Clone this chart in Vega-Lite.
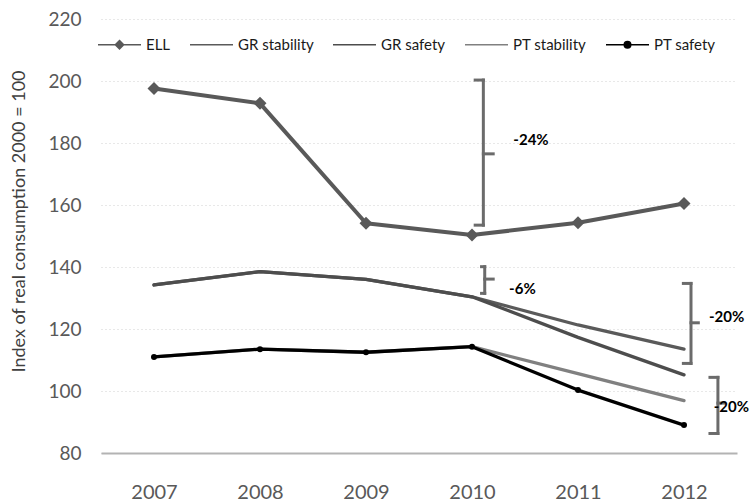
{
  "$schema": "https://vega.github.io/schema/vega-lite/v6.json",
  "autosize": "none",
  "width": 636,
  "height": 434,
  "padding": {"left": 101, "top": 19, "right": 13, "bottom": 49},
  "background": "white",
  "config": {"view": {"stroke": null}, "font": "Lato"},
  "datasets": {
    "series": [
      {"series": "ELL", "year": 2007, "value": 197.6},
      {"series": "ELL", "year": 2008, "value": 192.8},
      {"series": "ELL", "year": 2009, "value": 154.1},
      {"series": "ELL", "year": 2010, "value": 150.3},
      {"series": "ELL", "year": 2011, "value": 154.3},
      {"series": "ELL", "year": 2012, "value": 160.5},
      {"series": "GR stability", "year": 2007, "value": 134.2},
      {"series": "GR stability", "year": 2008, "value": 138.5},
      {"series": "GR stability", "year": 2009, "value": 136.0},
      {"series": "GR stability", "year": 2010, "value": 130.4},
      {"series": "GR stability", "year": 2011, "value": 121.3},
      {"series": "GR stability", "year": 2012, "value": 113.5},
      {"series": "GR safety", "year": 2007, "value": 134.2},
      {"series": "GR safety", "year": 2008, "value": 138.5},
      {"series": "GR safety", "year": 2009, "value": 136.0},
      {"series": "GR safety", "year": 2010, "value": 130.4},
      {"series": "GR safety", "year": 2011, "value": 117.3},
      {"series": "GR safety", "year": 2012, "value": 105.2},
      {"series": "PT stability", "year": 2007, "value": 111.0},
      {"series": "PT stability", "year": 2008, "value": 113.5},
      {"series": "PT stability", "year": 2009, "value": 112.5},
      {"series": "PT stability", "year": 2010, "value": 114.3},
      {"series": "PT stability", "year": 2011, "value": 105.6},
      {"series": "PT stability", "year": 2012, "value": 96.9},
      {"series": "PT safety", "year": 2007, "value": 111.0},
      {"series": "PT safety", "year": 2008, "value": 113.5},
      {"series": "PT safety", "year": 2009, "value": 112.5},
      {"series": "PT safety", "year": 2010, "value": 114.3},
      {"series": "PT safety", "year": 2011, "value": 100.3},
      {"series": "PT safety", "year": 2012, "value": 89.0}
    ],
    "brackets": [
      {"x": 2010.107, "x2": 2010.107, "y": 153.5, "y2": 200.3},
      {"x": 2010.03, "x2": 2010.107, "y": 200.3, "y2": 200.3},
      {"x": 2010.03, "x2": 2010.107, "y": 153.5, "y2": 153.5},
      {"x": 2010.107, "x2": 2010.2, "y": 176.5, "y2": 176.5},
      {"x": 2010.12, "x2": 2010.12, "y": 131.5, "y2": 140.1},
      {"x": 2010.09, "x2": 2010.12, "y": 140.1, "y2": 140.1},
      {"x": 2010.09, "x2": 2010.12, "y": 131.5, "y2": 131.5},
      {"x": 2010.12, "x2": 2010.2, "y": 136.1, "y2": 136.1},
      {"x": 2012.066, "x2": 2012.066, "y": 108.9, "y2": 134.7},
      {"x": 2011.994, "x2": 2012.066, "y": 134.7, "y2": 134.7},
      {"x": 2011.994, "x2": 2012.066, "y": 108.9, "y2": 108.9},
      {"x": 2012.066, "x2": 2012.135, "y": 122.0, "y2": 122.0},
      {"x": 2012.32, "x2": 2012.32, "y": 86.3, "y2": 104.4},
      {"x": 2012.245, "x2": 2012.32, "y": 104.4, "y2": 104.4},
      {"x": 2012.245, "x2": 2012.32, "y": 86.3, "y2": 86.3},
      {"x": 2012.32, "x2": 2012.38, "y": 96.1, "y2": 96.1}
    ],
    "notes": [
      {"x": 2010.39, "y": 181.0, "label": "-24%"},
      {"x": 2010.35, "y": 132.9, "label": "-6%"},
      {"x": 2012.236, "y": 124.0, "label": "-20%"},
      {"x": 2012.28, "y": 94.9, "label": "-20%"}
    ]
  },
  "layer": [
    {
      "data": {"name": "series"},
      "transform": [{"filter": "datum.series !== 'ELL'"}],
      "mark": {"type": "line", "strokeWidth": 3.3, "strokeCap": "round", "strokeJoin": "round"},
      "encoding": {
        "x": {
          "field": "year",
          "type": "quantitative",
          "scale": {"domain": [2006.5, 2012.5], "nice": false, "zero": false},
          "axis": {
            "values": [2007, 2008, 2009, 2010, 2011, 2012],
            "format": "d",
            "title": null,
            "grid": false,
            "ticks": false,
            "domain": true,
            "domainColor": "#b3b3b3",
            "domainWidth": 2,
            "labelFont": "Lato",
            "labelFontSize": 20,
            "labelColor": "#595959",
            "labelPadding": 29
          }
        },
        "y": {
          "field": "value",
          "type": "quantitative",
          "scale": {"domain": [80, 220], "nice": false, "zero": false},
          "axis": {
            "values": [80, 100, 120, 140, 160, 180, 200, 220],
            "title": "Index of real consumption 2000 = 100",
            "titleFont": "Lato",
            "titleFontSize": 18,
            "titleFontWeight": "normal",
            "titleColor": "#404040",
            "titleBaseline": "middle",
            "titleX": -82,
            "titleY": 202,
            "grid": true,
            "gridDash": [1, 3],
            "gridColor": "#d0d0d0",
            "gridWidth": 1,
            "domain": false,
            "ticks": false,
            "labelFont": "Lato",
            "labelFontSize": 19,
            "labelColor": "#595959",
            "labelPadding": 20
          }
        },
        "color": {
          "field": "series",
          "type": "nominal",
          "scale": {
            "domain": ["ELL", "GR stability", "GR safety", "PT stability", "PT safety"],
            "range": ["#595959", "#5a5a5a", "#4d4d4d", "#808080", "#000000"]
          },
          "legend": {
            "orient": "none",
            "legendX": -4,
            "legendY": 3,
            "direction": "horizontal",
            "title": null,
            "padding": 0,
            "symbolType": "stroke",
            "symbolSize": 1849,
            "symbolStrokeWidth": 1.6,
            "labelFont": "Lato",
            "labelFontSize": 15,
            "labelColor": "#1a1a1a",
            "labelOffset": 4,
            "columnPadding": 15,
            "encode": {
              "symbols": {
                "update": {
                  "shape": {"signal": "datum.value === 'ELL' ? 'M-1,0H1M0,-0.19L0.19,0L0,0.19L-0.19,0Z' : datum.value === 'PT safety' ? 'M-1,0H1M-0.15,0A0.15,0.15 0 1,0 0.15,0A0.15,0.15 0 1,0 -0.15,0Z' : 'M-1,0H1'"},
                  "fill": {"signal": "scale('color', datum.value)"},
                  "strokeWidth": {"value": 1.6}
                }
              }
            }
          }
        }
      }
    },
    {
      "data": {"name": "series"},
      "transform": [{"filter": "datum.series === 'ELL'"}],
      "mark": {"type": "line", "strokeWidth": 4, "strokeCap": "round", "strokeJoin": "round"},
      "encoding": {
        "x": {"field": "year", "type": "quantitative"},
        "y": {"field": "value", "type": "quantitative"},
        "color": {"field": "series", "type": "nominal"}
      }
    },
    {
      "data": {"name": "series"},
      "transform": [{"filter": "datum.series === 'ELL'"}],
      "mark": {"type": "point", "shape": "diamond", "filled": true, "size": 170, "color": "#595959", "opacity": 1},
      "encoding": {
        "x": {"field": "year", "type": "quantitative"},
        "y": {"field": "value", "type": "quantitative"}
      }
    },
    {
      "data": {"name": "series"},
      "transform": [{"filter": "datum.series === 'PT safety'"}],
      "mark": {"type": "point", "shape": "circle", "filled": true, "size": 36, "color": "#000000", "opacity": 1},
      "encoding": {
        "x": {"field": "year", "type": "quantitative"},
        "y": {"field": "value", "type": "quantitative"}
      }
    },
    {
      "data": {"name": "brackets"},
      "mark": {"type": "rule", "color": "#6b6b6b", "strokeWidth": 3, "strokeCap": "square"},
      "encoding": {
        "x": {"field": "x", "type": "quantitative"},
        "x2": {"field": "x2"},
        "y": {"field": "y", "type": "quantitative"},
        "y2": {"field": "y2"}
      }
    },
    {
      "data": {"name": "notes"},
      "mark": {"type": "text", "align": "left", "baseline": "middle", "font": "Lato", "fontSize": 15, "fontWeight": "bold", "color": "#000000", "clip": false},
      "encoding": {
        "x": {"field": "x", "type": "quantitative"},
        "y": {"field": "y", "type": "quantitative"},
        "text": {"field": "label"}
      }
    }
  ]
}
